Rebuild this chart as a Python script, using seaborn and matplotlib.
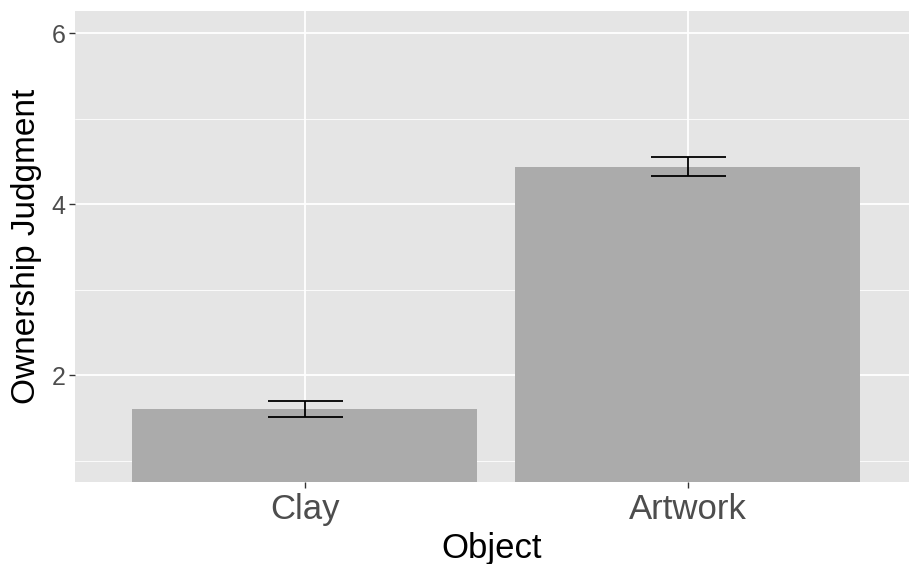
import matplotlib
matplotlib.use("Agg")
import matplotlib.pyplot as plt
import seaborn as sns
import pandas as pd

# Mean ownership judgment per object type, with standard errors
objects = ["Clay", "Artwork"]
means = [1.60, 4.44]
std_errors = [0.094, 0.113]
y_ticks = [2, 4, 6]

df = pd.DataFrame({"Object": objects, "Judgment": means})

sns.set_theme(style="darkgrid", rc={
    "axes.facecolor": "#E5E5E5",
    "grid.color": "white",
    "axes.edgecolor": "#E5E5E5",
})
plt.rcParams["font.family"] = ["Liberation Sans", "DejaVu Sans"]

fig = plt.figure(figsize=(9.09, 5.64), dpi=100)
ax = fig.add_axes([75 / 909, 1 - 482 / 564, 834 / 909, 471 / 564])

sns.barplot(data=df, x="Object", y="Judgment", order=objects, color="#ABABAB",
            saturation=1, width=0.9, errorbar=None, linewidth=0, ax=ax, zorder=2)
ax.errorbar(x=range(len(objects)), y=means, yerr=std_errors, fmt="none",
            ecolor="black", elinewidth=1.3, capsize=27, capthick=1.3, zorder=3)

ax.set_xlim(-0.6, 1.578)
ax.set_ylim(0.75, 6.26)
ax.set_yticks(y_ticks)
ax.set_yticks([1, 3, 5], minor=True)
ax.grid(True, which="major", color="white", linewidth=1.3, zorder=0)
ax.grid(True, which="minor", axis="y", color="white", linewidth=0.6, zorder=0)
ax.set_axisbelow(True)
for s in ax.spines.values():
    s.set_visible(False)

ax.tick_params(axis="both", which="major", length=4, width=1, color="#333333",
               bottom=True, left=True)
ax.tick_params(axis="x", labelsize=25, labelcolor="#4D4D4D", pad=4)
ax.tick_params(axis="y", labelsize=18, labelcolor="#4D4D4D", pad=3)
ax.tick_params(which="minor", length=0)

ax.set_xlabel("Object", fontsize=25, color="black", labelpad=4)
ax.set_ylabel("Ownership Judgment", fontsize=24, color="black", labelpad=7)

fig.savefig("out.png", dpi=100)
